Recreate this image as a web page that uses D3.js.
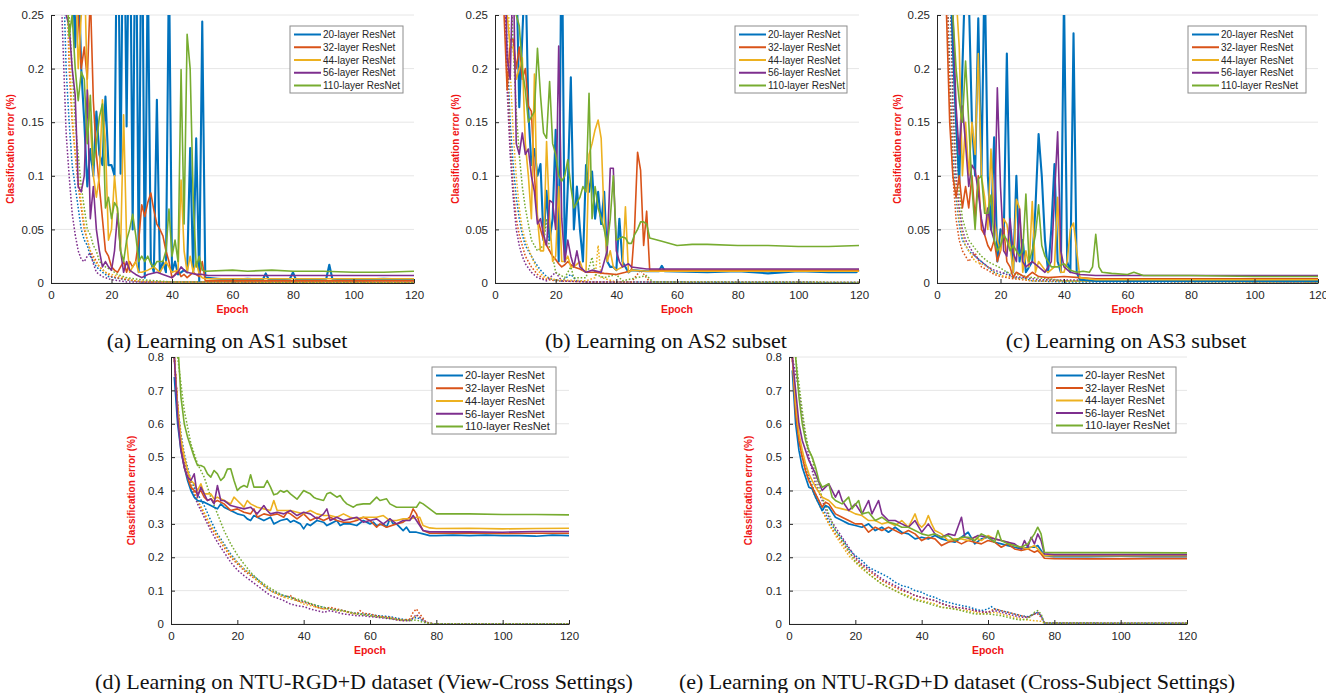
<!DOCTYPE html>
<html lang="en">
<head>
  <meta charset="UTF-8">
  <title>ResNet learning curves</title>
  <style>
    body { margin: 0; background: #fff; }
    svg { display: block; }
  </style>
</head>
<body>
  <svg id="chart" width="1326" height="693"></svg>
  <script src="https://cdnjs.cloudflare.com/ajax/libs/d3/7.8.5/d3.min.js"></script>
  <script>
    // legend / series
    var seriesNames = ['20-layer ResNet', '32-layer ResNet', '44-layer ResNet', '56-layer ResNet', '110-layer ResNet'];
    var colors = ['#0072BD', '#D95319', '#EDB120', '#7E2F8E', '#77AC30'];
    var xTicks = [0, 20, 40, 60, 80, 100, 120];
    var smallYTicks = [0, 0.05, 0.1, 0.15, 0.2, 0.25];
    var bigYTicks = [0, 0.1, 0.2, 0.3, 0.4, 0.5, 0.6, 0.7, 0.8];
    var captions = ['(a) Learning on AS1 subset', '(b) Learning on AS2 subset', '(c) Learning on AS3 subset',
      '(d) Learning on NTU-RGD+D dataset (View-Cross Settings)', '(e) Learning on NTU-RGD+D dataset (Cross-Subject Settings)'];

    // ---- (a) AS1, [epoch, error] : solid = test, *t = train (dotted)
    var a20 = [[1,0.6],[3,0.5],[5,0.4],[7,0.3],[8,0.22],[9,0.3],[10,0.2],[11,0.15],[12,0.09],[13,0.125],[14,0.1],[15,0.16],[16,0.12],[17,0.11],[18,0.174],[19,0.11],[20,0.11],[21,0.1],[22,0.4],[23,0.102],[24,0.4],[25,0.146],[26,0.4],[27,0.05],[28,0.4],[29,0.01],[30,0.4],[31,0.005],[32,0.3],[33,0.02],[34,0.01],[35,0.171],[36,0.01],[37,0.02],[38,0.01],[39,0.3],[40,0.01],[41,0.02],[42,0.008],[43,0.01],[44,0.012],[45,0.01],[46,0.126],[47,0.01],[48,0.135],[49,0.002],[50,0.244],[51,0.005],[55,0.004],[60,0.003],[65,0.004],[70,0.003],[71,0.009],[72,0.003],[79,0.004],[80,0.01],[81,0.003],[91,0.004],[92,0.017],[93,0.004],[100,0.003],[110,0.004],[120,0.003]];
    var a32 = [[1,0.6],[5,0.4],[8,0.3],[9,0.25],[10,0.2],[11,0.22],[12,0.19],[13,0.27],[14,0.17],[15,0.12],[16,0.09],[17,0.06],[18,0.03],[19,0.025],[20,0.015],[21,0.012],[22,0.01],[23,0.015],[24,0.02],[25,0.01],[26,0.02],[27,0.015],[28,0.02],[29,0.04],[30,0.073],[31,0.062],[32,0.075],[33,0.084],[34,0.068],[35,0.055],[36,0.05],[37,0.044],[38,0.03],[39,0.02],[40,0.005],[41,0.008],[42,0.012],[43,0.006],[44,0.008],[45,0.005],[47,0.01],[49,0.006],[50,0.02],[51,0.002],[60,0.002],[120,0.002]];
    var a44 = [[1,0.6],[5,0.4],[8,0.3],[9,0.2],[10,0.25],[11,0.3],[12,0.18],[13,0.15],[14,0.1],[15,0.08],[16,0.1],[17,0.171],[18,0.13],[19,0.04],[20,0.05],[21,0.1],[22,0.065],[23,0.03],[24,0.157],[25,0.04],[26,0.01],[27,0.015],[28,0.02],[29,0.01],[30,0.01],[32,0.012],[34,0.015],[36,0.01],[38,0.02],[40,0.01],[42,0.012],[43,0.096],[44,0.03],[45,0.01],[46,0.025],[47,0.01],[48,0.02],[49,0.008],[50,0.005],[51,0.004],[120,0.004]];
    var a56 = [[1,0.6],[4,0.3],[5,0.25],[6,0.24],[7,0.2],[8,0.175],[9,0.09],[10,0.085],[11,0.1],[12,0.18],[13,0.06],[14,0.09],[15,0.05],[16,0.03],[17,0.015],[18,0.02],[19,0.015],[20,0.012],[21,0.03],[22,0.065],[23,0.03],[24,0.01],[25,0.02],[26,0.012],[27,0.01],[28,0.008],[30,0.005],[32,0.008],[35,0.01],[37,0.008],[40,0.005],[42,0.01],[43,0.015],[44,0.012],[45,0.01],[48,0.008],[50,0.008],[52,0.007],[120,0.007]];
    var a110 = [[1,0.6],[4,0.35],[6,0.23],[7,0.25],[8,0.2],[9,0.17],[10,0.197],[11,0.19],[12,0.13],[13,0.175],[14,0.11],[15,0.13],[16,0.155],[17,0.167],[18,0.07],[19,0.08],[20,0.06],[21,0.075],[22,0.07],[23,0.03],[24,0.02],[25,0.04],[26,0.05],[27,0.064],[28,0.045],[29,0.02],[30,0.025],[31,0.02],[32,0.025],[33,0.018],[34,0.015],[35,0.02],[36,0.02],[37,0.02],[38,0.03],[39,0.069],[40,0.025],[41,0.04],[42,0.02],[43,0.199],[44,0.055],[45,0.232],[46,0.2],[47,0.08],[48,0.015],[49,0.025],[50,0.012],[51,0.011],[60,0.012],[65,0.011],[73,0.012],[80,0.011],[90,0.011],[100,0.01],[110,0.01],[120,0.011]];
    var a20t = [[2,0.6],[4,0.3],[5,0.2],[6,0.15],[7,0.11],[8,0.09],[9,0.07],[10,0.05],[11,0.04],[12,0.035],[13,0.025],[14,0.02],[15,0.015],[17,0.01],[19,0.006],[21,0.005],[25,0.003],[30,0.001],[120,0.0005]];
    var a32t = [[2,0.6],[5,0.3],[6,0.2],[7,0.15],[8,0.12],[9,0.09],[10,0.07],[11,0.05],[12,0.04],[13,0.03],[14,0.025],[16,0.015],[18,0.01],[20,0.006],[25,0.003],[30,0.001],[120,0.0005]];
    var a44t = [[3,0.6],[5,0.3],[6,0.22],[7,0.16],[8,0.12],[9,0.1],[10,0.075],[11,0.055],[12,0.04],[13,0.03],[14,0.022],[16,0.015],[18,0.01],[20,0.008],[24,0.005],[28,0.002],[35,0.001],[120,0.0005]];
    var a56t = [[1,0.6],[3,0.3],[4,0.22],[5,0.14],[6,0.1],[7,0.065],[8,0.045],[9,0.03],[10,0.022],[11,0.02],[12,0.025],[13,0.028],[14,0.018],[15,0.01],[17,0.006],[20,0.003],[25,0.001],[120,0.0005]];
    var a110t = [[3,0.6],[5,0.35],[6,0.25],[7,0.2],[8,0.15],[9,0.12],[10,0.09],[11,0.07],[12,0.05],[13,0.045],[14,0.035],[15,0.03],[16,0.02],[18,0.015],[20,0.012],[22,0.008],[25,0.005],[30,0.003],[35,0.002],[40,0.001],[120,0.0005]];

    // ---- (b) AS2
    var b20 = [[1,0.6],[3,0.4],[5,0.3],[7,0.3],[8,0.164],[9,0.23],[10,0.3],[11,0.16],[12,0.11],[13,0.125],[14,0.1],[15,0.111],[16,0.04],[17,0.086],[18,0.04],[19,0.06],[20,0.143],[21,0.02],[22,0.35],[23,0.02],[24,0.09],[25,0.192],[26,0.05],[27,0.09],[28,0.05],[29,0.02],[30,0.11],[31,0.085],[32,0.104],[33,0.06],[34,0.085],[35,0.055],[36,0.085],[37,0.02],[38,0.015],[39,0.015],[40,0.012],[41,0.06],[42,0.02],[43,0.015],[44,0.01],[45,0.012],[50,0.011],[54,0.011],[55,0.016],[56,0.011],[70,0.01],[80,0.011],[90,0.009],[100,0.011],[110,0.01],[119,0.01],[120,0.012]];
    var b32 = [[1,0.6],[3,0.25],[4,0.18],[5,0.227],[6,0.227],[7,0.2],[8,0.22],[9,0.19],[10,0.2],[11,0.165],[12,0.16],[13,0.1],[14,0.06],[15,0.05],[16,0.04],[17,0.035],[18,0.03],[19,0.025],[20,0.022],[21,0.018],[22,0.015],[23,0.017],[24,0.02],[25,0.017],[26,0.015],[28,0.013],[30,0.01],[33,0.01],[36,0.009],[40,0.008],[43,0.01],[45,0.012],[46,0.05],[47,0.122],[48,0.105],[49,0.035],[50,0.067],[51,0.012],[60,0.012],[120,0.012]];
    var b44 = [[1,0.6],[4,0.25],[5,0.22],[6,0.22],[7,0.19],[8,0.2],[9,0.21],[10,0.13],[11,0.1],[12,0.06],[13,0.195],[14,0.06],[15,0.03],[16,0.03],[17,0.132],[18,0.06],[19,0.02],[20,0.025],[21,0.09],[22,0.02],[23,0.02],[24,0.025],[25,0.015],[26,0.015],[28,0.02],[29,0.012],[30,0.01],[31,0.12],[32,0.13],[33,0.143],[34,0.152],[35,0.135],[36,0.06],[37,0.02],[38,0.03],[39,0.015],[40,0.012],[42,0.015],[43,0.071],[44,0.01],[45,0.012],[50,0.011],[120,0.011]];
    var b56 = [[1,0.6],[4,0.21],[5,0.19],[6,0.3],[7,0.13],[8,0.12],[9,0.14],[10,0.12],[11,0.125],[12,0.1],[13,0.085],[14,0.055],[15,0.06],[16,0.045],[17,0.035],[18,0.077],[19,0.075],[20,0.05],[21,0.221],[22,0.06],[23,0.02],[24,0.04],[25,0.025],[26,0.015],[27,0.03],[28,0.015],[30,0.01],[32,0.012],[35,0.01],[37,0.03],[38,0.107],[39,0.107],[40,0.03],[41,0.02],[42,0.015],[44,0.018],[45,0.015],[50,0.013],[120,0.013]];
    var b110 = [[1,0.6],[6,0.3],[7,0.25],[8,0.24],[9,0.2],[10,0.18],[11,0.15],[12,0.155],[13,0.16],[14,0.219],[15,0.175],[16,0.14],[17,0.135],[18,0.188],[19,0.13],[20,0.12],[21,0.1],[22,0.095],[23,0.1],[24,0.115],[25,0.09],[26,0.07],[27,0.075],[28,0.08],[29,0.09],[30,0.085],[31,0.177],[32,0.06],[33,0.09],[34,0.07],[35,0.06],[36,0.05],[37,0.035],[38,0.06],[39,0.1],[40,0.04],[42,0.043],[43,0.042],[44,0.037],[45,0.037],[46,0.045],[47,0.05],[48,0.057],[49,0.057],[50,0.055],[51,0.042],[55,0.039],[60,0.035],[65,0.036],[70,0.036],[80,0.035],[90,0.035],[100,0.034],[110,0.034],[120,0.035]];
    var b20t = [[1,0.6],[3,0.3],[4,0.22],[5,0.15],[6,0.11],[7,0.08],[8,0.06],[9,0.045],[10,0.035],[11,0.03],[12,0.025],[13,0.02],[15,0.012],[17,0.006],[19,0.003],[22,0.002],[25,0.008],[27,0.002],[30,0.001],[120,0.0005]];
    var b32t = [[1,0.6],[3,0.3],[4,0.2],[5,0.13],[6,0.09],[7,0.06],[8,0.045],[9,0.035],[10,0.025],[12,0.015],[14,0.008],[16,0.004],[20,0.002],[30,0.001],[45,0.001],[48,0.012],[51,0.001],[120,0.0005]];
    var b44t = [[2,0.6],[4,0.3],[5,0.2],[6,0.14],[7,0.1],[8,0.07],[9,0.05],[10,0.04],[12,0.025],[14,0.012],[16,0.006],[20,0.003],[30,0.002],[33,0.005],[34,0.035],[35,0.005],[40,0.001],[120,0.0005]];
    var b56t = [[1,0.6],[3,0.28],[4,0.18],[5,0.12],[6,0.08],[7,0.05],[8,0.035],[9,0.025],[10,0.018],[12,0.01],[14,0.005],[17,0.002],[20,0.01],[22,0.002],[30,0.001],[120,0.0005]];
    var b110t = [[2,0.6],[5,0.3],[6,0.22],[7,0.16],[8,0.12],[9,0.09],[10,0.07],[11,0.055],[12,0.04],[14,0.03],[16,0.035],[17,0.06],[18,0.03],[19,0.025],[20,0.01],[23,0.005],[25,0.015],[26,0.005],[30,0.005],[32,0.024],[33,0.008],[36,0.005],[40,0.008],[42,0.002],[50,0.007],[52,0.001],[120,0.0005]];

    // ---- (c) AS3
    var c20 = [[1,0.6],[3,0.4],[4,0.3],[5,0.22],[6,0.15],[7,0.093],[8,0.2],[9,0.3],[10,0.27],[11,0.15],[12,0.1],[13,0.247],[14,0.1],[15,0.3],[16,0.1],[17,0.05],[18,0.136],[19,0.02],[20,0.05],[21,0.04],[22,0.214],[23,0.05],[24,0.01],[25,0.1],[26,0.02],[27,0.04],[28,0.01],[29,0.015],[30,0.02],[31,0.07],[32,0.139],[33,0.1],[34,0.04],[35,0.01],[36,0.05],[37,0.111],[38,0.02],[39,0.01],[40,0.27],[41,0.02],[42,0.01],[43,0.233],[44,0.01],[45,0.003],[50,0.002],[120,0.002]];
    var c32 = [[1,0.6],[3,0.25],[4,0.15],[5,0.1],[6,0.08],[7,0.1],[8,0.07],[9,0.09],[10,0.07],[11,0.1],[12,0.06],[13,0.1],[14,0.05],[15,0.045],[16,0.035],[17,0.03],[18,0.04],[19,0.02],[20,0.03],[21,0.052],[22,0.02],[23,0.015],[24,0.005],[25,0.01],[28,0.005],[30,0.01],[32,0.006],[35,0.005],[40,0.006],[45,0.005],[50,0.004],[120,0.004]];
    var c44 = [[1,0.6],[5,0.3],[6,0.27],[7,0.22],[8,0.1],[9,0.15],[10,0.1],[11,0.15],[12,0.12],[13,0.214],[14,0.1],[15,0.08],[16,0.05],[17,0.125],[18,0.06],[19,0.04],[20,0.03],[21,0.06],[22,0.055],[23,0.035],[24,0.01],[25,0.078],[26,0.07],[27,0.01],[28,0.03],[29,0.015],[30,0.076],[31,0.01],[32,0.02],[34,0.012],[35,0.01],[37,0.015],[38,0.08],[39,0.01],[40,0.01],[41,0.02],[42,0.05],[43,0.056],[44,0.03],[45,0.005],[50,0.003],[120,0.003]];
    var c56 = [[1,0.6],[4,0.3],[5,0.25],[6,0.165],[7,0.12],[8,0.165],[9,0.13],[10,0.09],[11,0.11],[12,0.105],[13,0.085],[14,0.06],[15,0.045],[16,0.07],[17,0.05],[18,0.04],[19,0.182],[20,0.09],[21,0.03],[22,0.025],[23,0.06],[24,0.028],[25,0.02],[26,0.069],[27,0.02],[28,0.015],[30,0.02],[32,0.015],[34,0.01],[36,0.02],[37,0.08],[38,0.141],[39,0.03],[40,0.015],[42,0.01],[45,0.008],[50,0.007],[120,0.007]];
    var c110 = [[1,0.6],[4,0.3],[5,0.25],[6,0.2],[7,0.17],[8,0.15],[9,0.207],[10,0.15],[11,0.09],[12,0.05],[13,0.097],[14,0.1],[15,0.065],[16,0.065],[17,0.082],[18,0.04],[19,0.03],[20,0.035],[21,0.045],[22,0.04],[23,0.03],[24,0.035],[25,0.03],[26,0.025],[27,0.03],[28,0.083],[29,0.02],[30,0.03],[31,0.045],[32,0.073],[33,0.035],[34,0.025],[35,0.02],[36,0.015],[38,0.015],[40,0.018],[42,0.012],[44,0.01],[46,0.011],[48,0.01],[49,0.015],[50,0.0455],[51,0.015],[52,0.01],[55,0.009],[60,0.008],[62,0.01],[65,0.007],[70,0.007],[80,0.007],[100,0.006],[120,0.006]];
    var c20t = [[1,0.6],[3,0.3],[4,0.2],[5,0.12],[6,0.08],[7,0.055],[8,0.04],[9,0.035],[10,0.03],[12,0.025],[14,0.02],[16,0.015],[18,0.01],[20,0.008],[22,0.01],[24,0.005],[28,0.004],[30,0.002],[40,0.001],[120,0.001]];
    var c32t = [[1,0.6],[3,0.3],[4,0.18],[5,0.1],[6,0.06],[7,0.04],[8,0.03],[9,0.025],[10,0.02],[12,0.028],[14,0.015],[16,0.012],[18,0.008],[20,0.006],[24,0.004],[30,0.002],[120,0.001]];
    var c44t = [[1,0.6],[4,0.3],[5,0.15],[6,0.09],[7,0.06],[8,0.045],[9,0.035],[10,0.03],[12,0.02],[14,0.018],[16,0.015],[18,0.01],[20,0.007],[25,0.005],[30,0.002],[120,0.001]];
    var c56t = [[1,0.6],[4,0.3],[5,0.17],[6,0.1],[7,0.07],[8,0.05],[9,0.04],[10,0.035],[12,0.025],[14,0.02],[16,0.015],[18,0.012],[20,0.01],[24,0.006],[28,0.005],[32,0.003],[120,0.001]];
    var c110t = [[1,0.6],[4,0.35],[5,0.22],[6,0.13],[7,0.085],[8,0.06],[9,0.05],[10,0.04],[12,0.032],[14,0.025],[16,0.02],[18,0.017],[20,0.014],[22,0.01],[25,0.008],[30,0.005],[35,0.004],[40,0.002],[120,0.001]];

    // ---- (d) NTU view-cross
    var d20 = [[1,0.74],[2,0.6],[3,0.52],[4,0.47],[5,0.43],[6,0.4],[7,0.38],[8,0.37],[10,0.365],[12,0.355],[13,0.35],[14,0.345],[15,0.36],[16,0.35],[18,0.34],[20,0.33],[22,0.325],[23,0.315],[24,0.31],[25,0.325],[26,0.32],[28,0.31],[30,0.32],[31,0.3],[32,0.305],[33,0.31],[35,0.315],[36,0.305],[37,0.31],[39,0.3],[40,0.285],[41,0.3],[42,0.295],[44,0.31],[46,0.305],[47,0.295],[48,0.3],[50,0.31],[51,0.295],[52,0.3],[54,0.3],[56,0.295],[58,0.31],[60,0.3],[61,0.305],[62,0.295],[64,0.3],[65,0.29],[66,0.315],[67,0.3],[68,0.3],[70,0.28],[71,0.29],[72,0.275],[74,0.275],[76,0.27],[78,0.265],[80,0.265],[85,0.266],[90,0.265],[95,0.266],[100,0.265],[105,0.265],[110,0.263],[115,0.266],[120,0.265]];
    var d32 = [[1,0.8],[2,0.65],[3,0.53],[4,0.47],[5,0.44],[6,0.41],[7,0.4],[8,0.39],[9,0.4],[10,0.38],[11,0.37],[12,0.375],[13,0.365],[14,0.37],[16,0.36],[18,0.34],[20,0.345],[22,0.335],[24,0.33],[25,0.345],[26,0.32],[28,0.33],[30,0.325],[32,0.33],[34,0.32],[35,0.335],[36,0.33],[38,0.315],[40,0.33],[42,0.31],[44,0.32],[46,0.31],[48,0.32],[50,0.31],[52,0.305],[54,0.305],[56,0.31],[58,0.32],[60,0.31],[62,0.29],[63,0.3],[65,0.29],[68,0.3],[70,0.305],[72,0.32],[73,0.345],[74,0.33],[75,0.3],[76,0.28],[78,0.272],[80,0.272],[90,0.273],[100,0.271],[110,0.272],[120,0.272]];
    var d44 = [[1,0.8],[2,0.65],[3,0.55],[4,0.5],[5,0.46],[6,0.43],[7,0.42],[8,0.4],[9,0.42],[10,0.39],[12,0.39],[13,0.375],[14,0.38],[16,0.37],[18,0.36],[19,0.38],[20,0.37],[22,0.35],[23,0.37],[24,0.36],[26,0.35],[28,0.345],[30,0.34],[31,0.37],[32,0.34],[34,0.34],[36,0.34],[38,0.335],[40,0.33],[42,0.34],[44,0.33],[46,0.325],[48,0.325],[50,0.32],[52,0.33],[54,0.32],[56,0.315],[58,0.32],[60,0.32],[62,0.32],[64,0.325],[66,0.31],[68,0.31],[70,0.315],[72,0.315],[74,0.32],[75,0.32],[76,0.295],[78,0.288],[80,0.286],[90,0.287],[100,0.285],[110,0.286],[120,0.287]];
    var d56 = [[1,0.8],[2,0.62],[3,0.52],[4,0.47],[5,0.44],[6,0.43],[7,0.45],[8,0.38],[9,0.41],[10,0.39],[11,0.37],[12,0.375],[13,0.36],[14,0.415],[15,0.37],[16,0.37],[18,0.355],[20,0.35],[22,0.345],[24,0.35],[26,0.33],[28,0.355],[29,0.34],[30,0.33],[32,0.335],[34,0.33],[36,0.34],[38,0.325],[40,0.335],[42,0.33],[44,0.315],[46,0.33],[47,0.345],[48,0.31],[50,0.32],[52,0.31],[54,0.315],[56,0.32],[58,0.305],[60,0.31],[62,0.315],[64,0.3],[66,0.315],[68,0.3],[70,0.31],[72,0.31],[73,0.325],[74,0.31],[76,0.28],[78,0.276],[90,0.276],[100,0.275],[110,0.277],[120,0.277]];
    var d110 = [[2,0.85],[3,0.68],[4,0.6],[5,0.56],[6,0.53],[7,0.5],[8,0.475],[9,0.475],[10,0.47],[11,0.45],[12,0.44],[13,0.46],[14,0.45],[15,0.43],[16,0.44],[17,0.464],[18,0.465],[19,0.43],[20,0.4],[21,0.41],[22,0.415],[23,0.41],[24,0.447],[25,0.41],[26,0.41],[28,0.41],[29,0.43],[30,0.41],[31,0.387],[32,0.39],[33,0.4],[34,0.395],[35,0.4],[36,0.39],[38,0.374],[40,0.4],[41,0.395],[42,0.39],[43,0.38],[44,0.375],[46,0.37],[47,0.39],[48,0.394],[50,0.38],[51,0.385],[52,0.37],[53,0.36],[55,0.35],[56,0.357],[58,0.36],[60,0.36],[62,0.38],[63,0.37],[65,0.375],[66,0.36],[68,0.35],[70,0.35],[72,0.35],[74,0.35],[75,0.365],[76,0.36],[78,0.345],[80,0.33],[90,0.33],[100,0.328],[110,0.328],[120,0.327]];
    var d20t = [[1,0.8],[2,0.66],[3,0.57],[4,0.51],[5,0.47],[6,0.43],[8,0.39],[10,0.355],[12,0.31],[14,0.27],[16,0.24],[18,0.21],[20,0.185],[22,0.165],[24,0.15],[26,0.135],[28,0.115],[30,0.1],[32,0.092],[34,0.085],[36,0.08],[38,0.07],[40,0.068],[42,0.06],[44,0.055],[46,0.05],[48,0.045],[50,0.042],[52,0.04],[54,0.035],[56,0.032],[58,0.03],[60,0.028],[62,0.025],[64,0.024],[66,0.022],[68,0.018],[70,0.014],[72,0.012],[74,0.02],[75,0.015],[77,0.005],[79,0.001],[120,0.001]];
    var d32t = [[1,0.8],[2,0.65],[3,0.56],[4,0.5],[5,0.46],[6,0.42],[8,0.37],[10,0.33],[12,0.29],[14,0.26],[16,0.23],[18,0.2],[20,0.18],[22,0.16],[24,0.145],[26,0.13],[28,0.115],[30,0.1],[32,0.09],[34,0.08],[36,0.085],[38,0.07],[40,0.065],[42,0.06],[44,0.05],[46,0.045],[48,0.05],[50,0.045],[52,0.04],[54,0.035],[56,0.03],[57,0.04],[58,0.032],[60,0.03],[62,0.025],[64,0.022],[66,0.02],[68,0.015],[70,0.012],[72,0.015],[73,0.035],[74,0.045],[75,0.03],[77,0.005],[79,0.001],[120,0.001]];
    var d44t = [[1,0.8],[2,0.65],[3,0.56],[4,0.5],[5,0.46],[6,0.42],[8,0.37],[10,0.335],[12,0.295],[14,0.265],[16,0.235],[18,0.205],[20,0.185],[22,0.165],[24,0.15],[26,0.13],[28,0.115],[30,0.1],[32,0.09],[34,0.08],[36,0.075],[38,0.07],[40,0.06],[42,0.055],[44,0.05],[46,0.045],[48,0.045],[50,0.04],[52,0.038],[54,0.033],[56,0.03],[58,0.028],[60,0.025],[62,0.022],[64,0.02],[66,0.018],[68,0.013],[70,0.01],[72,0.012],[74,0.025],[75,0.02],[77,0.004],[79,0.001],[120,0.001]];
    var d56t = [[1,0.8],[2,0.64],[3,0.55],[4,0.49],[5,0.45],[6,0.41],[8,0.36],[10,0.32],[12,0.28],[14,0.245],[16,0.215],[18,0.185],[20,0.162],[22,0.145],[24,0.13],[26,0.115],[28,0.1],[30,0.085],[32,0.078],[34,0.07],[36,0.06],[38,0.055],[40,0.052],[42,0.045],[44,0.04],[46,0.035],[48,0.04],[50,0.035],[52,0.03],[54,0.028],[56,0.025],[58,0.025],[60,0.022],[62,0.02],[64,0.018],[66,0.016],[68,0.012],[70,0.01],[72,0.01],[74,0.028],[75,0.02],[77,0.004],[79,0.001],[120,0.001]];
    var d110t = [[2,0.8],[3,0.72],[4,0.64],[5,0.59],[6,0.54],[8,0.48],[10,0.44],[12,0.38],[14,0.33],[16,0.28],[18,0.24],[20,0.207],[22,0.18],[24,0.155],[26,0.135],[28,0.12],[30,0.107],[32,0.095],[34,0.085],[36,0.08],[38,0.075],[40,0.07],[42,0.062],[44,0.055],[46,0.05],[48,0.045],[50,0.042],[52,0.04],[54,0.035],[56,0.03],[58,0.028],[60,0.025],[62,0.022],[64,0.02],[66,0.017],[68,0.014],[70,0.012],[72,0.01],[74,0.012],[76,0.005],[78,0.001],[120,0.001]];

    // ---- (e) NTU cross-subject
    var e20 = [[1,0.76],[2,0.6],[3,0.52],[4,0.47],[5,0.44],[6,0.41],[7,0.405],[8,0.38],[10,0.34],[11,0.355],[12,0.35],[14,0.32],[16,0.31],[18,0.3],[20,0.295],[22,0.29],[24,0.3],[26,0.28],[28,0.29],[30,0.275],[32,0.29],[34,0.275],[36,0.27],[38,0.255],[40,0.26],[42,0.255],[44,0.265],[46,0.255],[48,0.25],[50,0.245],[52,0.26],[54,0.275],[56,0.24],[58,0.255],[60,0.26],[62,0.245],[64,0.24],[66,0.235],[68,0.23],[70,0.225],[72,0.23],[74,0.23],[75,0.235],[76,0.22],[77,0.205],[80,0.202],[90,0.202],[100,0.203],[110,0.202],[120,0.202]];
    var e32 = [[1,0.8],[2,0.63],[3,0.55],[4,0.5],[5,0.46],[6,0.43],[7,0.41],[8,0.39],[10,0.35],[11,0.365],[12,0.36],[14,0.33],[16,0.32],[18,0.31],[20,0.3],[22,0.3],[24,0.275],[26,0.29],[28,0.28],[30,0.29],[32,0.28],[34,0.27],[36,0.28],[38,0.27],[40,0.25],[42,0.26],[44,0.255],[46,0.235],[48,0.245],[50,0.25],[52,0.24],[54,0.25],[56,0.245],[58,0.24],[60,0.25],[62,0.245],[64,0.23],[66,0.24],[68,0.225],[70,0.22],[72,0.225],[74,0.215],[75,0.22],[76,0.21],[77,0.197],[80,0.196],[90,0.195],[100,0.195],[110,0.196],[120,0.196]];
    var e44 = [[1,0.8],[2,0.66],[3,0.57],[4,0.52],[5,0.48],[6,0.45],[7,0.43],[8,0.41],[10,0.38],[12,0.37],[14,0.35],[16,0.345],[18,0.34],[20,0.33],[22,0.325],[24,0.31],[26,0.31],[28,0.3],[30,0.305],[32,0.295],[34,0.31],[36,0.29],[37,0.31],[38,0.33],[39,0.3],[40,0.29],[41,0.3],[42,0.325],[43,0.3],[44,0.28],[46,0.27],[48,0.25],[50,0.255],[52,0.255],[54,0.25],[56,0.26],[58,0.25],[60,0.265],[62,0.255],[64,0.25],[66,0.245],[68,0.235],[70,0.23],[72,0.225],[74,0.235],[76,0.215],[77,0.205],[80,0.205],[100,0.205],[120,0.205]];
    var e56 = [[1,0.8],[2,0.7],[3,0.6],[4,0.55],[5,0.52],[6,0.49],[7,0.47],[8,0.45],[10,0.4],[11,0.41],[12,0.42],[14,0.38],[15,0.4],[16,0.37],[18,0.34],[20,0.36],[22,0.33],[24,0.37],[25,0.33],[27,0.37],[28,0.33],[30,0.31],[32,0.31],[34,0.3],[36,0.29],[38,0.31],[40,0.275],[42,0.3],[44,0.27],[46,0.26],[48,0.27],[50,0.265],[52,0.32],[53,0.26],[55,0.255],[57,0.265],[60,0.26],[62,0.255],[64,0.25],[66,0.245],[68,0.24],[70,0.225],[71,0.25],[72,0.23],[73,0.26],[74,0.24],[75,0.27],[76,0.25],[77,0.21],[80,0.208],[100,0.208],[120,0.208]];
    var e110 = [[2,0.8],[3,0.68],[4,0.6],[5,0.55],[6,0.52],[7,0.5],[8,0.47],[9,0.43],[10,0.41],[11,0.415],[12,0.42],[13,0.38],[14,0.37],[16,0.36],[18,0.38],[19,0.345],[21,0.37],[22,0.33],[24,0.335],[26,0.31],[28,0.32],[30,0.305],[32,0.3],[34,0.29],[36,0.29],[38,0.28],[40,0.27],[42,0.265],[44,0.27],[46,0.26],[48,0.265],[50,0.25],[52,0.26],[54,0.26],[56,0.25],[58,0.27],[60,0.26],[62,0.245],[63,0.28],[64,0.25],[66,0.24],[68,0.235],[70,0.23],[72,0.24],[74,0.27],[75,0.29],[76,0.27],[77,0.215],[80,0.214],[100,0.214],[120,0.213]];
    var e20t = [[1,0.8],[2,0.64],[3,0.56],[4,0.5],[5,0.47],[6,0.44],[8,0.39],[10,0.35],[12,0.31],[14,0.28],[16,0.255],[18,0.225],[20,0.205],[22,0.19],[24,0.17],[26,0.16],[28,0.15],[30,0.14],[32,0.125],[34,0.115],[36,0.11],[38,0.1],[40,0.095],[42,0.085],[44,0.08],[46,0.07],[48,0.065],[50,0.06],[52,0.055],[54,0.052],[56,0.045],[58,0.04],[60,0.045],[61,0.052],[62,0.045],[64,0.04],[66,0.035],[68,0.03],[70,0.025],[72,0.022],[74,0.03],[75,0.035],[76,0.025],[77,0.003],[80,0.002],[120,0.002]];
    var e32t = [[1,0.8],[2,0.64],[3,0.55],[4,0.5],[5,0.46],[6,0.43],[8,0.38],[10,0.34],[12,0.3],[14,0.27],[16,0.245],[18,0.215],[20,0.195],[22,0.175],[24,0.16],[26,0.145],[28,0.13],[30,0.12],[32,0.11],[34,0.1],[36,0.095],[38,0.085],[40,0.08],[42,0.075],[44,0.07],[46,0.06],[48,0.055],[50,0.05],[52,0.048],[54,0.045],[56,0.04],[58,0.035],[60,0.035],[62,0.045],[64,0.04],[66,0.035],[68,0.03],[70,0.025],[72,0.02],[74,0.03],[75,0.03],[76,0.02],[77,0.003],[120,0.002]];
    var e44t = [[1,0.8],[2,0.66],[3,0.56],[4,0.5],[5,0.46],[6,0.43],[8,0.38],[10,0.34],[12,0.3],[14,0.265],[16,0.235],[18,0.205],[20,0.185],[22,0.165],[24,0.15],[26,0.135],[28,0.12],[30,0.11],[32,0.1],[34,0.09],[36,0.085],[38,0.075],[40,0.07],[42,0.065],[44,0.06],[46,0.05],[48,0.048],[50,0.045],[52,0.042],[54,0.04],[56,0.035],[58,0.03],[60,0.032],[62,0.035],[64,0.03],[66,0.025],[68,0.02],[70,0.015],[72,0.012],[74,0.01],[76,0.008],[77,0.002],[120,0.002]];
    var e56t = [[1,0.8],[3,0.7],[4,0.62],[5,0.56],[6,0.5],[8,0.42],[10,0.37],[12,0.32],[14,0.29],[16,0.26],[18,0.23],[20,0.2],[22,0.18],[24,0.165],[26,0.15],[28,0.135],[30,0.125],[32,0.115],[34,0.105],[36,0.095],[38,0.085],[40,0.08],[42,0.075],[44,0.07],[46,0.062],[48,0.055],[50,0.05],[52,0.048],[54,0.045],[56,0.04],[58,0.038],[60,0.035],[62,0.04],[64,0.035],[66,0.03],[68,0.025],[70,0.02],[72,0.02],[74,0.03],[75,0.035],[76,0.025],[77,0.003],[120,0.002]];
    var e110t = [[2,0.8],[3,0.72],[4,0.64],[5,0.57],[6,0.52],[7,0.5],[8,0.44],[10,0.38],[12,0.33],[14,0.28],[16,0.25],[18,0.22],[20,0.187],[22,0.17],[24,0.15],[26,0.135],[28,0.12],[30,0.11],[32,0.1],[34,0.09],[36,0.08],[38,0.072],[40,0.067],[42,0.062],[44,0.055],[46,0.05],[48,0.048],[50,0.045],[52,0.04],[54,0.035],[56,0.03],[58,0.03],[60,0.03],[62,0.028],[64,0.025],[66,0.02],[68,0.015],[70,0.012],[72,0.015],[74,0.035],[75,0.04],[76,0.03],[77,0.003],[120,0.002]];

    // panel boxes (pixel layout only)
    var panels = [
      {x0: 51, x1: 414, y0: 15, y1: 283, yMax: 0.25, yTicks: smallYTicks, blueW: 2.1,
        test: [a20, a32, a44, a56, a110], train: [a20t, a32t, a44t, a56t, a110t],
        leg: {x: 290, y: 26, w: 113, h: 67, fs: 10}, cap: {x: 227, y: 348}, yl: 14},
      {x0: 495, x1: 859, y0: 15, y1: 283, yMax: 0.25, yTicks: smallYTicks, blueW: 2.1,
        test: [b20, b32, b44, b56, b110], train: [b20t, b32t, b44t, b56t, b110t],
        leg: {x: 735, y: 26, w: 112, h: 67, fs: 10}, cap: {x: 666, y: 348}, yl: 459},
      {x0: 937, x1: 1318, y0: 15, y1: 283, yMax: 0.25, yTicks: smallYTicks, blueW: 2.1,
        test: [c20, c32, c44, c56, c110], train: [c20t, c32t, c44t, c56t, c110t],
        leg: {x: 1188, y: 26, w: 118, h: 67, fs: 10}, cap: {x: 1126, y: 348}, yl: 901},
      {x0: 171, x1: 569, y0: 357, y1: 624, yMax: 0.8, yTicks: bigYTicks, blueW: 1.7,
        test: [d20, d32, d44, d56, d110], train: [d20t, d32t, d44t, d56t, d110t],
        leg: {x: 432, y: 367, w: 124, h: 67, fs: 11}, cap: {x: 364, y: 689}, yl: 135},
      {x0: 789, x1: 1187, y0: 357, y1: 624, yMax: 0.8, yTicks: bigYTicks, blueW: 1.7,
        test: [e20, e32, e44, e56, e110], train: [e20t, e32t, e44t, e56t, e110t],
        leg: {x: 1052, y: 367, w: 124, h: 66, fs: 11}, cap: {x: 957, y: 689}, yl: 752}
    ];

    var svg = d3.select('#chart');
    var axisColor = '#262626';
    var fmt = d3.format('~g');

    panels.forEach(function(p, i) {
      var x = d3.scaleLinear().domain([0, 120]).range([p.x0, p.x1]);
      var y = d3.scaleLinear().domain([0, p.yMax]).range([p.y1, p.y0]);
      var g = svg.append('g');

      // grid
      g.append('g').selectAll('line').data(p.yTicks).enter().append('line')
        .attr('x1', p.x0).attr('x2', p.x1)
        .attr('y1', function(d) { return y(d); }).attr('y2', function(d) { return y(d); })
        .attr('stroke', '#e6e6e6').attr('stroke-width', 1);

      var clipId = 'clip' + i;
      g.append('clipPath').attr('id', clipId).append('rect')
        .attr('x', p.x0).attr('y', p.y0).attr('width', p.x1 - p.x0 + 1).attr('height', p.y1 - p.y0);

      var line = d3.line()
        .x(function(d) { return x(d[0]); })
        .y(function(d) { return y(d[1]); });

      var plot = g.append('g').attr('clip-path', 'url(#' + clipId + ')');
      // train (dotted)
      p.train.forEach(function(s, k) {
        plot.append('path').datum(s).attr('d', line)
          .attr('fill', 'none').attr('stroke', colors[k])
          .attr('stroke-width', 1.5).attr('stroke-dasharray', '1.6,1.8');
      });
      // test (solid)
      p.test.forEach(function(s, k) {
        plot.append('path').datum(s).attr('d', line)
          .attr('fill', 'none').attr('stroke', colors[k])
          .attr('stroke-width', k === 0 ? p.blueW : 1.6).attr('stroke-linejoin', 'round');
      });

      // axes
      var xAxis = d3.axisBottom(x).tickValues(xTicks).tickSizeInner(-4).tickSizeOuter(0).tickPadding(8);
      var gx = g.append('g').attr('transform', 'translate(0,' + p.y1 + ')').call(xAxis);
      var yAxis = d3.axisLeft(y).tickValues(p.yTicks).tickFormat(fmt).tickSizeInner(-4).tickSizeOuter(0).tickPadding(7);
      var gy = g.append('g').attr('transform', 'translate(' + p.x0 + ',0)').call(yAxis);
      [gx, gy].forEach(function(a) {
        a.select('.domain').attr('stroke', axisColor).attr('stroke-width', 1);
        a.selectAll('.tick line').attr('stroke', axisColor);
        a.selectAll('text').attr('fill', axisColor).attr('font-family', 'Liberation Sans, Arial, sans-serif').attr('font-size', 11.5);
      });

      // axis titles
      g.append('text').attr('x', (p.x0 + p.x1) / 2).attr('y', p.y1 + 30)
        .attr('text-anchor', 'middle').attr('font-family', 'Liberation Sans, Arial, sans-serif')
        .attr('font-size', 10.5).attr('font-weight', 'bold').attr('fill', '#f01414').text('Epoch');
      g.append('text').attr('transform', 'translate(' + p.yl + ',' + (p.y0 + p.y1) / 2 + ') rotate(-90)')
        .attr('text-anchor', 'middle').attr('font-family', 'Liberation Sans, Arial, sans-serif')
        .attr('font-size', 10).attr('font-weight', 'bold').attr('fill', '#f01414').text('Classification error (%)');

      // legend
      var L = p.leg;
      var lg = g.append('g');
      lg.append('rect').attr('x', L.x).attr('y', L.y).attr('width', L.w).attr('height', L.h)
        .attr('fill', '#fff').attr('stroke', '#8c8c8c').attr('stroke-width', 1);
      var rowH = (L.h - 16) / 4;
      seriesNames.forEach(function(name, k) {
        var ry = L.y + 8.5 + k * rowH;
        lg.append('line').attr('x1', L.x + 4).attr('x2', L.x + 31).attr('y1', ry).attr('y2', ry)
          .attr('stroke', colors[k]).attr('stroke-width', 2);
        lg.append('text').attr('x', L.x + 33).attr('y', ry).attr('dy', '0.35em')
          .attr('font-family', 'Liberation Sans, Arial, sans-serif').attr('font-size', L.fs)
          .attr('fill', axisColor).text(name);
      });

      // caption
      svg.append('text').attr('x', p.cap.x).attr('y', p.cap.y).attr('text-anchor', 'middle')
        .attr('font-family', 'Liberation Serif, Times New Roman, serif').attr('font-size', 22)
        .attr('fill', '#111').text(captions[i]);
    });
  </script>
</body>
</html>
